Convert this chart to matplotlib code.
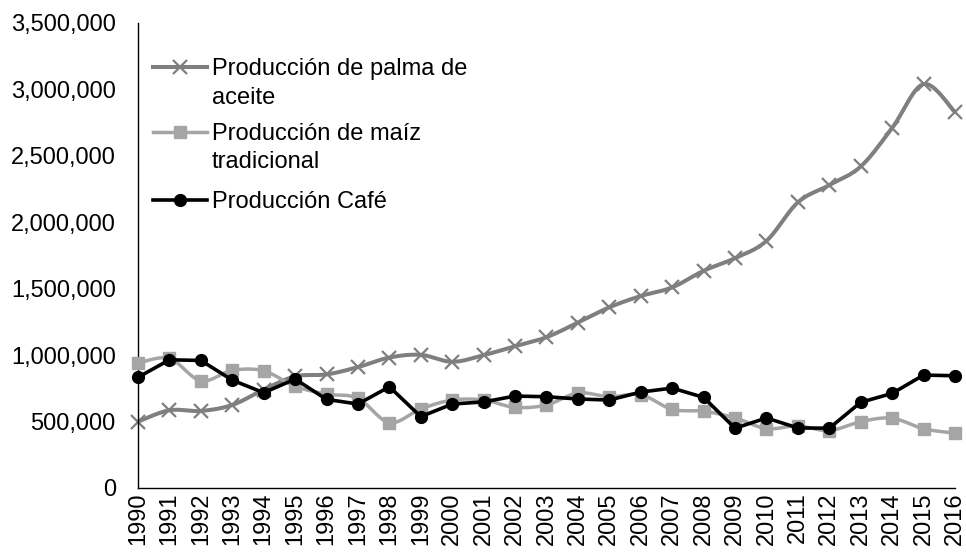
import numpy as np
import matplotlib
matplotlib.use("Agg")
import matplotlib.pyplot as plt
from matplotlib.ticker import FuncFormatter
from matplotlib.lines import Line2D

years = list(range(1990, 2017))
palma = [500000, 585000, 580000, 625000, 740000, 840000, 855000, 910000, 982000, 1002000,
         950000, 1000000, 1067000, 1135000, 1245000, 1360000, 1445000, 1510000, 1635000, 1730000,
         1860000, 2150000, 2280000, 2420000, 2710000, 3040000, 2830000]
maiz = [940000, 975000, 807000, 885000, 882000, 765000, 707000, 675000, 492000, 595000,
        662000, 662000, 607000, 625000, 715000, 687000, 702000, 592000, 578000, 528000,
        447000, 468000, 432000, 500000, 525000, 446000, 413000]
cafe = [833000, 965000, 960000, 812000, 717000, 820000, 667000, 632000, 762000, 537000,
        632000, 648000, 692000, 687000, 670000, 662000, 722000, 752000, 682000, 450000,
        527000, 452000, 450000, 645000, 712000, 850000, 845000]
labels = [["Producción de palma de", "aceite"], ["Producción de maíz", "tradicional"], ["Producción Café"]]


def smooth(x, y, n=20):
    x = np.asarray(x, float)
    y = np.asarray(y, float)
    xs, ys = [], []
    px = np.concatenate([[x[0]], x, [x[-1]]])
    py = np.concatenate([[y[0]], y, [y[-1]]])
    t = np.linspace(0, 1, n, endpoint=False)
    for i in range(1, len(px) - 2):
        p0, p1, p2, p3 = py[i - 1], py[i], py[i + 1], py[i + 2]
        q0, q1, q2, q3 = px[i - 1], px[i], px[i + 1], px[i + 2]
        c1y = p1 + (p2 - p0) / 6
        c2y = p2 - (p3 - p1) / 6
        c1x = q1 + (q2 - q0) / 6
        c2x = q2 - (q3 - q1) / 6
        bx = (1 - t) ** 3 * q1 + 3 * (1 - t) ** 2 * t * c1x + 3 * (1 - t) * t ** 2 * c2x + t ** 3 * q2
        by = (1 - t) ** 3 * p1 + 3 * (1 - t) ** 2 * t * c1y + 3 * (1 - t) * t ** 2 * c2y + t ** 3 * p2
        xs.extend(bx)
        ys.extend(by)
    xs.append(x[-1])
    ys.append(y[-1])
    return np.array(xs), np.array(ys)


plt.rcParams['font.family'] = ['Liberation Sans', 'DejaVu Sans']
FS = 17
W, H = 966, 554

fig = plt.figure(figsize=(W / 100, H / 100), dpi=100)
ax_l, ax_r, ax_t, ax_b = 138, 955, 23, 488
ax = fig.add_axes([ax_l / W, 1 - ax_b / H, (ax_r - ax_l) / W, (ax_b - ax_t) / H])

c_palma = "#7f7f7f"
c_maiz = "#a5a5a5"
c_cafe = "#000000"

st_palma = dict(color=c_palma, lw=2.9, marker='x', ms=10, mew=1.6)
st_maiz = dict(color=c_maiz, lw=2.5, marker='s', ms=9)
st_cafe = dict(color=c_cafe, lw=2.6, marker='o', ms=8.5)

sx, sy = smooth(years, palma)
ax.plot(sx, sy, color=c_palma, lw=st_palma['lw'], solid_capstyle='round', zorder=2)
ax.plot(years, palma, ls='none', marker='x', ms=st_palma['ms'], mew=st_palma['mew'], color=c_palma, zorder=2)

sx, sy = smooth(years, maiz)
ax.plot(sx, sy, color=c_maiz, lw=st_maiz['lw'], solid_capstyle='round', zorder=3)
ax.plot(years, maiz, ls='none', marker='s', ms=st_maiz['ms'], color=c_maiz, zorder=3)

ax.plot(years, cafe, zorder=4, **st_cafe)

ax.set_xlim(1990, 2016)
ax.set_ylim(0, 3500000)
ax.set_xticks(years)
ax.set_xticklabels([str(y) for y in years], rotation=90, fontsize=FS)
ax.set_yticks(np.arange(0, 3500001, 500000))
ax.yaxis.set_major_formatter(FuncFormatter(lambda v, p: f"{int(v):,}"))
ax.tick_params(axis='y', labelsize=FS, length=0, pad=16)
ax.tick_params(axis='x', length=0, pad=3)
for s in ['top', 'right']:
    ax.spines[s].set_visible(False)
for s in ['left', 'bottom']:
    ax.spines[s].set_color('black')
    ax.spines[s].set_linewidth(1.0)
for ln in ax.lines:
    ln.set_clip_on(False)


def fx(px):
    return px / W


def fy(py):
    return 1 - py / H


entries = [(st_palma, labels[0], [66.7, 95]),
           (st_maiz, labels[1], [131.7, 160]),
           (st_cafe, labels[2], [200])]
for st, lab, ys in entries:
    fig.add_artist(Line2D([fx(153), fx(207)], [fy(ys[0]), fy(ys[0])], color=st['color'], lw=st['lw'],
                          transform=fig.transFigure))
    fig.add_artist(Line2D([fx(180)], [fy(ys[0])], ls='none', marker=st['marker'], ms=st['ms'],
                          mew=st.get('mew', 1.0), color=st['color'], transform=fig.transFigure))
    for line, yy in zip(lab, ys):
        fig.text(fx(212), fy(yy), line, fontsize=FS, ha='left', va='center_baseline')

fig.savefig("out.png", dpi=100)
